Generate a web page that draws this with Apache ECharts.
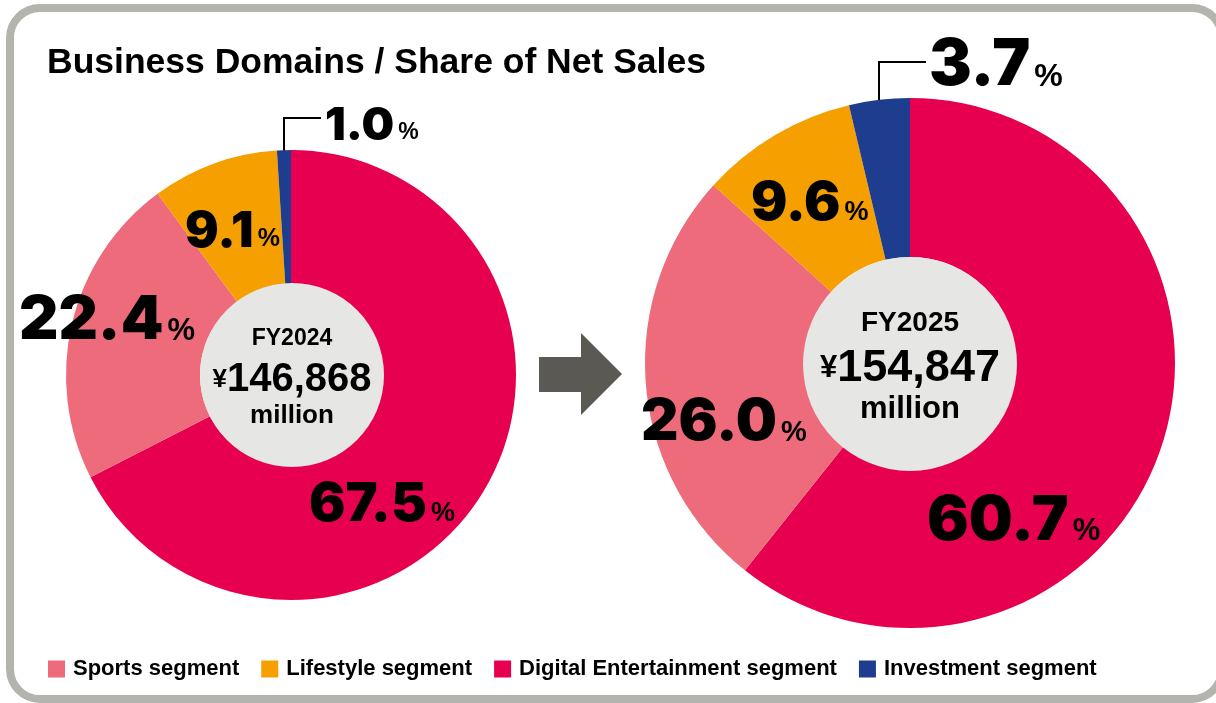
<!DOCTYPE html>
<html>
<head>
<meta charset="utf-8">
<script src="https://cdn.jsdelivr.net/npm/echarts@6/dist/echarts.min.js"></script>
<style>
  html, body { margin: 0; padding: 0; background: #ffffff; }
  #pieChart { width: 1216px; height: 703px; }
</style>
</head>
<body>
<div id="pieChart"></div>
<script>
// slices in drawing order (clockwise from 12 o'clock)
const categories = ['Digital Entertainment segment', 'Sports segment', 'Lifestyle segment', 'Investment segment'];
const legendOrder = ['Sports segment', 'Lifestyle segment', 'Digital Entertainment segment', 'Investment segment'];
const fy2024Share = [67.5, 22.4, 9.1, 1.0];
const fy2025Share = [60.7, 26.0, 9.6, 3.7];
const fiscalYears = ['FY2024', 'FY2025'];
const netSales = ['146,868', '154,847'];

const colors = ['#e6004f', '#ed6b7a', '#f5a000', '#1f3d8f'];

// hand placed label spots (left edge, middle) like in the printed report
const labelSpots = [
  [[309, 505], [19, 321], [185, 232], [325, 126]],
  [[927, 521], [641, 423], [751, 204], [929, 66]]
];
const leaderLines = [
  [[284, 152], [284, 118], [321, 118]],
  [[879, 101], [879, 62], [926, 62]]
];
const numSizes = [[54, 61, 50, 46], [62, 58, 54, 64]];

// hub text sizes: [fy, yen, amount, million]
const hubSizes = [[23, 26, 40, 26], [28, 31, 45, 31]];

const bigFont = 'Inter, "DejaVu Sans", sans-serif';
const boldFont = '"Liberation Sans", Arial, sans-serif';

let pieChart = {
  __dom: null,
  __chart: null,
  __option: {},
  makeDonut: function (idx, values, center, radius) {
    return {
      type: 'pie',
      center: center,
      radius: radius,
      startAngle: 90,
      clockwise: true,
      silent: true,
      animation: false,
      avoidLabelOverlap: false,
      label: {
        show: true,
        position: 'outside',
        color: '#000'
      },
      labelLine: { show: false },
      labelLayout: function (params) {
        let spot = labelSpots[idx][params.dataIndex];
        let out = { x: spot[0], y: spot[1], align: 'left', verticalAlign: 'middle' };
        if (params.dataIndex === 3) {
          out.labelLinePoints = leaderLines[idx];
        }
        return out;
      },
      data: values.map(function (v, i) {
        let fs = numSizes[idx][i];
        return {
          name: categories[i],
          value: v,
          itemStyle: { color: colors[i] },
          label: {
            formatter: '{n|' + v.toFixed(1) + '}{p|%}',
            rich: {
              n: { fontFamily: bigFont, fontWeight: 900, fontSize: fs, color: '#000', verticalAlign: 'bottom', lineHeight: fs },
              p: { fontFamily: boldFont, fontWeight: 'bold', fontSize: Math.round(fs * 0.5), color: '#000', verticalAlign: 'bottom', padding: [0, 0, 5, 4] }
            }
          },
          labelLine: { show: i === 3, lineStyle: { color: '#000', width: 2 } }
        };
      })
    };
  },
  makeHub: function (idx, center, r) {
    let hs = hubSizes[idx];
    return {
      type: 'pie',
      center: center,
      radius: [0, r],
      silent: true,
      animation: false,
      label: {
        show: true,
        position: 'center',
        color: '#000',
        formatter: '{fy|' + fiscalYears[idx] + '}\n{yen|¥}{amt|' + netSales[idx] + '}\n{mil|million}',
        rich: {
          fy: { fontFamily: boldFont, fontWeight: 'bold', fontSize: hs[0], lineHeight: hs[0] + 18 },
          yen: { fontFamily: boldFont, fontWeight: 'bold', fontSize: hs[1], lineHeight: hs[2], verticalAlign: 'middle' },
          amt: { fontFamily: boldFont, fontWeight: 'bold', fontSize: hs[2], lineHeight: hs[2] },
          mil: { fontFamily: boldFont, fontWeight: 'bold', fontSize: hs[3], lineHeight: hs[3] + 6 }
        }
      },
      labelLine: { show: false },
      data: [{ name: fiscalYears[idx], value: 1, itemStyle: { color: '#e6e6e4' } }]
    };
  },
  initChart: function () {
    this.__dom = document.getElementById('pieChart');
    this.__chart = echarts.init(this.__dom);
    this.__option = {
      backgroundColor: '#ffffff',
      title: {
        text: 'Business Domains / Share of Net Sales',
        left: 42,
        top: 40,
        textStyle: {
          fontFamily: boldFont,
          fontWeight: 'bold',
          fontSize: 35.5,
          color: '#000'
        }
      },
      legend: {
        data: legendOrder,
        left: 43,
        top: 653,
        icon: 'rect',
        itemWidth: 17,
        itemHeight: 17,
        itemGap: 22,
        selectedMode: false,
        textStyle: {
          fontFamily: boldFont,
          fontWeight: 'bold',
          fontSize: 22,
          color: '#000',
          padding: [0, 0, 0, 3]
        }
      },
      graphic: [
        {
          type: 'rect',
          z: -10,
          shape: { x: 10, y: 8, width: 1212, height: 691, r: 30 },
          style: { fill: 'none', stroke: '#b4b4ae', lineWidth: 8 }
        },
        {
          type: 'polygon',
          shape: { points: [[539, 357], [581, 357], [581, 333], [622, 374], [581, 415], [581, 392], [539, 392]] },
          style: { fill: '#5a5953' }
        }
      ],
      series: [
        this.makeDonut(0, fy2024Share, [291, 375], [91, 225]),
        this.makeHub(0, [292, 375], 92),
        this.makeDonut(1, fy2025Share, [910, 363], [106, 265]),
        this.makeHub(1, [910, 364], 107)
      ]
    };
    this.__chart.setOption(this.__option);
  }
};

pieChart.initChart();
</script>
</body>
</html>
